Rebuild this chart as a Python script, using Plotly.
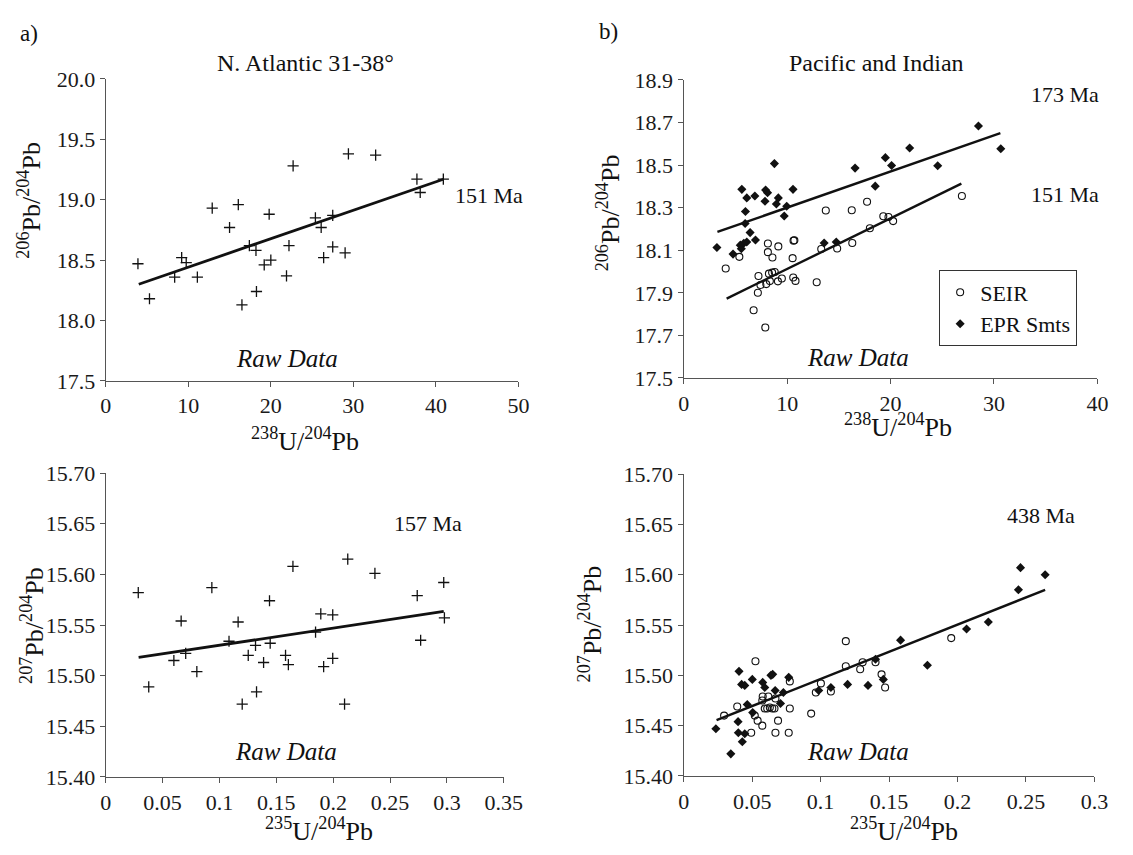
import plotly.graph_objects as go

W, H = 1133, 855
SERIF = "Liberation Serif"
INK = "#111111"
AXIS = "#555555"

# ---------------- Panel a: N. Atlantic 31-38° ----------------
na_u238 = [3.9, 5.3, 8.35, 9.2, 9.75, 11.1, 12.9, 15.0, 16.06, 16.5, 17.4, 18.2, 18.26,
           19.2, 19.8, 20.0, 21.9, 22.2, 22.7, 25.4, 26.1, 26.4, 27.5, 27.5, 29.0, 29.4,
           32.7, 37.7, 38.1, 40.9]
na_pb206 = [18.47, 18.18, 18.36, 18.52, 18.48, 18.36, 18.93, 18.77, 18.96, 18.13, 18.62,
            18.58, 18.24, 18.46, 18.88, 18.50, 18.37, 18.62, 19.28, 18.85, 18.77, 18.52,
            18.87, 18.61, 18.56, 19.38, 19.37, 19.17, 19.06, 19.17]
na_fit206_x = [4.0, 40.9]
na_fit206_y = [18.30, 19.17]

na_u235 = [0.0286, 0.0378, 0.0599, 0.0663, 0.0703, 0.0801, 0.0933, 0.1084, 0.1164, 0.120,
           0.1253, 0.1317, 0.1326, 0.1388, 0.1440, 0.1446, 0.1581, 0.1606, 0.1646, 0.1845,
           0.1891, 0.1916, 0.1996, 0.1996, 0.2100, 0.2128, 0.2367, 0.2739, 0.2769, 0.2972,
           0.2978]
na_pb207 = [15.582, 15.489, 15.515, 15.554, 15.522, 15.504, 15.587, 15.534, 15.553, 15.472,
            15.520, 15.530, 15.484, 15.513, 15.574, 15.532, 15.520, 15.511, 15.608, 15.543,
            15.561, 15.509, 15.517, 15.560, 15.472, 15.615, 15.601, 15.579, 15.535, 15.592,
            15.557]
na_fit207_x = [0.0289, 0.2972]
na_fit207_y = [15.518, 15.5634]

# ---------------- Panel b: Pacific and Indian ----------------
seir_u238 = [4.06, 5.38, 8.14, 8.14, 8.58, 9.15, 10.62, 10.7, 10.53, 13.74, 16.25, 17.73,
             19.3, 19.8, 20.25, 18.0, 16.3, 14.84, 13.3, 12.86, 7.23, 7.42, 7.17, 6.76,
             7.89, 7.98, 8.33, 8.24, 8.55, 8.8, 9.11, 9.49, 10.59, 10.81, 26.9]
seir_pb206 = [18.014, 18.069, 18.132, 18.091, 18.066, 18.118, 18.145, 18.147, 18.063,
              18.287, 18.288, 18.328, 18.260, 18.256, 18.237, 18.203, 18.134, 18.108,
              18.106, 17.950, 17.979, 17.937, 17.900, 17.818, 17.737, 17.941, 17.955,
              17.990, 17.995, 17.998, 17.954, 17.967, 17.972, 17.956, 18.355]
epr_u238 = [8.77, 5.62, 6.1, 6.88, 7.92, 8.11, 7.86, 9.15, 8.96, 10.57, 9.96, 9.72, 5.97,
            5.94, 6.42, 6.94, 6.1, 5.81, 5.47, 5.57, 4.77, 3.21, 13.58, 14.75, 16.57,
            18.52, 20.1, 19.5, 21.85, 24.56, 28.5, 30.66]
epr_pb206 = [18.507, 18.386, 18.346, 18.355, 18.383, 18.370, 18.330, 18.346, 18.317,
             18.386, 18.307, 18.261, 18.282, 18.226, 18.183, 18.148, 18.139, 18.133,
             18.124, 18.107, 18.082, 18.113, 18.134, 18.139, 18.486, 18.401, 18.498,
             18.535, 18.580, 18.497, 18.684, 18.577]
epr_fit206_x = [3.26, 30.62]
epr_fit206_y = [18.186, 18.650]
seir_fit206_x = [4.15, 26.85]
seir_fit206_y = [17.873, 18.413]

seir_u235 = [0.0295, 0.0391, 0.0493, 0.0524, 0.0519, 0.0540, 0.0574, 0.0577, 0.0574,
             0.0592, 0.0610, 0.0629, 0.0647, 0.0663, 0.0670, 0.0689, 0.0670, 0.0618,
             0.0767, 0.0775, 0.0775, 0.0931, 0.0965, 0.1002, 0.1075, 0.1184, 0.1184,
             0.1289, 0.1307, 0.1401, 0.1445, 0.1471, 0.1954]
seir_pb207 = [15.460, 15.469, 15.443, 15.514, 15.460, 15.455, 15.450, 15.479, 15.475,
              15.467, 15.467, 15.468, 15.467, 15.467, 15.443, 15.455, 15.477, 15.479,
              15.443, 15.467, 15.494, 15.462, 15.483, 15.492, 15.484, 15.534, 15.509,
              15.506, 15.513, 15.513, 15.501, 15.488, 15.537]
epr_u235 = [0.0235, 0.0344, 0.0404, 0.0397, 0.0399, 0.0428, 0.0423, 0.0446, 0.0446,
            0.0464, 0.0501, 0.0504, 0.0577, 0.0592, 0.0637, 0.0650, 0.0668, 0.0707,
            0.0728, 0.0767, 0.0986, 0.1075, 0.1197, 0.1346, 0.1401, 0.1458, 0.1584,
            0.1780, 0.2066, 0.2225, 0.2445, 0.2460, 0.2640]
epr_pb207 = [15.447, 15.422, 15.504, 15.454, 15.443, 15.434, 15.491, 15.490, 15.442,
             15.471, 15.496, 15.463, 15.493, 15.488, 15.500, 15.501, 15.485, 15.472,
             15.483, 15.498, 15.485, 15.488, 15.491, 15.490, 15.516, 15.496, 15.535,
             15.510, 15.546, 15.553, 15.585, 15.607, 15.600]
pi_fit207_x = [0.024, 0.264]
pi_fit207_y = [15.4554, 15.585]

# ---------------- tick labels ----------------
tl_xticks = [0, 10, 20, 30, 40, 50]
tl_yticks = [17.5, 18.0, 18.5, 19.0, 19.5, 20.0]
tr_xticks = [0, 10, 20, 30, 40]
tr_yticks = [17.5, 17.7, 17.9, 18.1, 18.3, 18.5, 18.7, 18.9]
bl_xticks = [0, 0.05, 0.1, 0.15, 0.2, 0.25, 0.3, 0.35]
bl_xtext = ["0", "0.05", "0.1", "0.15", "0.2", "0.25", "0.3", "0.35"]
br_xticks = [0, 0.05, 0.1, 0.15, 0.2, 0.25, 0.3]
br_xtext = ["0", "0.05", "0.1", "0.15", "0.2", "0.25", "0.3"]
b_yticks = [15.40, 15.45, 15.50, 15.55, 15.60, 15.65, 15.70]

# plot-area boxes in pixels: (left, right, top, bottom)
BOX = {
    "tl": (102, 524, 69, 380),
    "tr": (693, 1116, 70, 377),
    "bl": (102, 509, 475, 788),
    "br": (693, 1113, 476, 787),
}


def fx(p):
    return p / W


def fy(p):
    return 1 - p / H


fig = go.Figure()

cross = dict(symbol="cross-thin", size=8, color=INK, line=dict(width=1.3, color=INK))
ring = dict(symbol="circle-open", size=7, color=INK, line=dict(width=1.1, color=INK))
diam = dict(symbol="diamond", size=7, color=INK, line=dict(width=0))

# panel a, top
fig.add_trace(go.Scatter(x=na_u238, y=na_pb206, mode="markers", marker=cross,
                         xaxis="x", yaxis="y", showlegend=False))
fig.add_trace(go.Scatter(x=na_fit206_x, y=na_fit206_y, mode="lines",
                         line=dict(color=INK, width=2.8), xaxis="x", yaxis="y", showlegend=False))
# panel b, top
fig.add_trace(go.Scatter(x=seir_u238, y=seir_pb206, mode="markers", marker=ring, name="SEIR",
                         xaxis="x2", yaxis="y2", showlegend=True))
fig.add_trace(go.Scatter(x=epr_u238, y=epr_pb206, mode="markers", marker=diam, name="EPR Smts",
                         xaxis="x2", yaxis="y2", showlegend=True))
fig.add_trace(go.Scatter(x=epr_fit206_x, y=epr_fit206_y, mode="lines",
                         line=dict(color=INK, width=2.4), xaxis="x2", yaxis="y2", showlegend=False))
fig.add_trace(go.Scatter(x=seir_fit206_x, y=seir_fit206_y, mode="lines",
                         line=dict(color=INK, width=2.4), xaxis="x2", yaxis="y2", showlegend=False))
# panel a, bottom
fig.add_trace(go.Scatter(x=na_u235, y=na_pb207, mode="markers", marker=cross,
                         xaxis="x3", yaxis="y3", showlegend=False))
fig.add_trace(go.Scatter(x=na_fit207_x, y=na_fit207_y, mode="lines",
                         line=dict(color=INK, width=2.8), xaxis="x3", yaxis="y3", showlegend=False))
# panel b, bottom
fig.add_trace(go.Scatter(x=seir_u235, y=seir_pb207, mode="markers", marker=ring,
                         xaxis="x4", yaxis="y4", showlegend=False))
fig.add_trace(go.Scatter(x=epr_u235, y=epr_pb207, mode="markers", marker=diam,
                         xaxis="x4", yaxis="y4", showlegend=False))
fig.add_trace(go.Scatter(x=pi_fit207_x, y=pi_fit207_y, mode="lines",
                         line=dict(color=INK, width=2.4), xaxis="x4", yaxis="y4", showlegend=False))

tickfont = dict(family=SERIF, size=22, color="#1a1a1a")
common = dict(showline=True, linecolor=AXIS, linewidth=1.4, ticks="outside", ticklen=5,
              tickwidth=1.3, tickcolor=AXIS, showgrid=False, zeroline=False,
              tickfont=tickfont, fixedrange=True)


def xdom(key):
    l, r, t, b = BOX[key]
    return [fx(l), fx(r)]


def ydom(key):
    l, r, t, b = BOX[key]
    return [fy(b), fy(t)]


fig.update_layout(
    width=W, height=H,
    margin=dict(l=0, r=0, t=0, b=0),
    paper_bgcolor="white", plot_bgcolor="white",
    font=dict(family=SERIF, size=22, color=INK),
    xaxis=dict(domain=xdom("tl"), range=[0, 50], anchor="y", tickvals=tl_xticks, **common),
    yaxis=dict(domain=ydom("tl"), range=[17.5, 20.0], anchor="x", tickvals=tl_yticks,
               tickformat=".1f", **common),
    xaxis2=dict(domain=xdom("tr"), range=[0, 40], anchor="y2", tickvals=tr_xticks, **common),
    yaxis2=dict(domain=ydom("tr"), range=[17.5, 18.9], anchor="x2", tickvals=tr_yticks,
                tickformat=".1f", **common),
    xaxis3=dict(domain=xdom("bl"), range=[0, 0.35], anchor="y3", tickvals=bl_xticks,
                ticktext=bl_xtext, **common),
    yaxis3=dict(domain=ydom("bl"), range=[15.40, 15.70], anchor="x3", tickvals=b_yticks,
                tickformat=".2f", **common),
    xaxis4=dict(domain=xdom("br"), range=[0, 0.3], anchor="y4", tickvals=br_xticks,
                ticktext=br_xtext, **common),
    yaxis4=dict(domain=ydom("br"), range=[15.40, 15.70], anchor="x4", tickvals=b_yticks,
                tickformat=".2f", **common),
    legend=dict(x=fx(954), y=fy(266), xanchor="left", yanchor="top",
                bordercolor="#333333", borderwidth=1.2, bgcolor="white",
                font=dict(family=SERIF, size=22, color=INK),
                tracegroupgap=0, itemwidth=30),
)

TITLE = 24
AGE = 22
AXT = 26


def label(text, x, y, size, xanchor="center", yanchor="middle", angle=0):
    fig.add_annotation(text=text, x=fx(x), y=fy(y), xref="paper", yref="paper",
                       showarrow=False, xanchor=xanchor, yanchor=yanchor, textangle=angle,
                       font=dict(family=SERIF, size=size, color=INK))


# panel letters and titles
label("a)", 12, 22, 23, xanchor="left")
label("b)", 604, 20, 23, xanchor="left")
label("N. Atlantic 31-38°", 306, 53, TITLE)
label("Pacific and Indian", 890, 53, TITLE)

# ages of the regression lines
label("151 Ma", 457, 189, AGE, xanchor="left")
label("173 Ma", 1046, 85, AGE, xanchor="left")
label("151 Ma", 1046, 188, AGE, xanchor="left")
label("157 Ma", 395, 527, AGE, xanchor="left")
label("438 Ma", 1022, 519, AGE, xanchor="left")

# "Raw Data" tags
label("<i>Raw Data</i>", 287, 357, 25)
label("<i>Raw Data</i>", 871, 356, 25)
label("<i>Raw Data</i>", 286, 762, 25)
label("<i>Raw Data</i>", 871, 762, 25)

# axis titles
u238 = "<sup>238</sup>U/<sup>204</sup>Pb"
u235 = "<sup>235</sup>U/<sup>204</sup>Pb"
pb206 = "<sup>206</sup>Pb/<sup>204</sup>Pb"
pb207 = "<sup>207</sup>Pb/<sup>204</sup>Pb"
label(u238, 306, 440, AXT)
label(u238, 912, 426, AXT)
label(u235, 320, 842, AXT)
label(u235, 918, 842, AXT)
label(pb206, 24, 194, AXT, angle=-90)
label(pb206, 617, 207, AXT, angle=-90)
label(pb207, 27, 632, AXT, angle=-90)
label(pb207, 598, 630, AXT, angle=-90)

fig.write_html("out.html")
